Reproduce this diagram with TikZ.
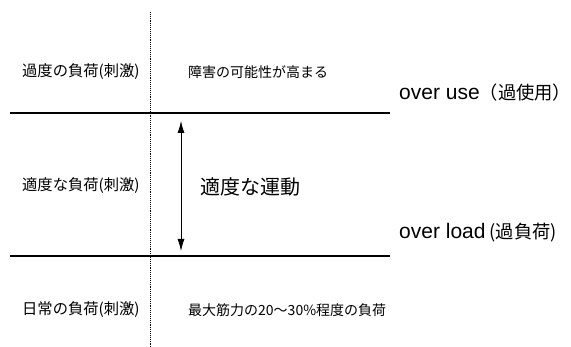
\documentclass[tikz,border=0pt]{standalone}
\usepackage{fontspec}
\setmainfont{Noto Sans CJK JP}
\newfontfamily\lat{Liberation Sans}
\usetikzlibrary{arrows.meta}
\newcommand{\biglat}[1]{{\lat\fontsize{21}{22}\selectfont #1}}
\begin{document}
\begin{tikzpicture}[x=1pt,y=-1pt,
  small/.style={font=\fontsize{15.3}{17}\selectfont, inner sep=0pt, anchor=west},
  rsmall/.style={font=\fontsize{14}{16}\selectfont, inner sep=0pt, anchor=west},
  big/.style={font=\fontsize{18.3}{21}\selectfont, inner sep=0pt, anchor=west},
  level/.style={line width=2pt},
  sep/.style={densely dotted, line width=0.9pt}]
\useasboundingbox (0,0) rectangle (571,347);
\coordinate (vt) at (150,12);
\coordinate (vb) at (150,347);
\draw[sep] (vt) -- (vb);
\coordinate (tl) at (10,113);
\coordinate (tr) at (390,113);
\coordinate (bl) at (10,256);
\coordinate (br) at (390,256);
\draw[level] (tl) -- (tr);
\draw[level] (bl) -- (br);
\coordinate (at) at (181,121);
\coordinate (ab) at (181,251);
\draw[{Latex[length=12pt,width=7pt]}-{Latex[length=12pt,width=7pt]}, line width=0.8pt] (at) -- (ab);
\node[small] (l1) at (22,72) {過度の負荷(刺激)};
\node[rsmall] (r1) at (188,72) {障害の可能性が高まる};
\node[small] (l2) at (22,186) {適度な負荷(刺激)};
\node[font=\fontsize{20}{22}\selectfont, inner sep=0pt, anchor=west] (mid) at (200,187) {適度な運動};
\node[small] (l3) at (22,310) {日常の負荷(刺激)};
\node[rsmall] (r3) at (188,310) {最大筋力の20〜30\%程度の負荷};
\node[big] (ou) at (399,93) {\biglat{over use}（過使用）};
\node[big] (ol) at (399,233) {\biglat{over load} (過負荷)};
\end{tikzpicture}
\end{document}
